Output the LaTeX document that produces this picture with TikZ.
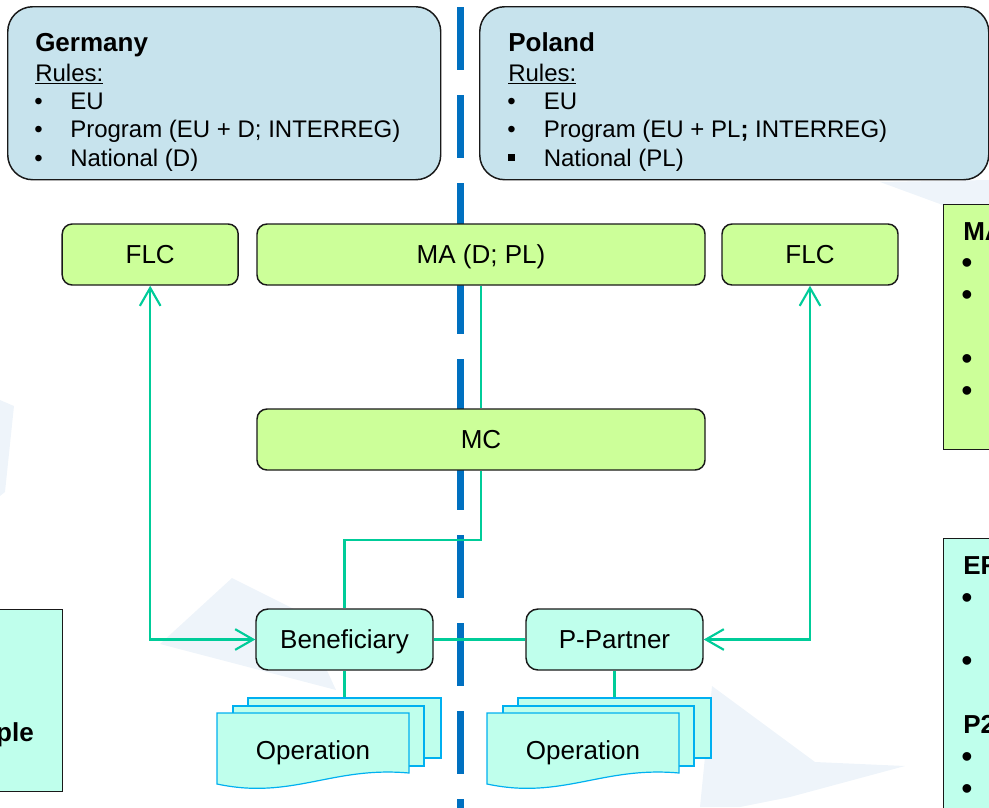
\documentclass[tikz,border=0pt]{standalone}
\usepackage{fontspec}
\setmainfont{Liberation Sans}
\usetikzlibrary{arrows.meta}
\usetikzlibrary{positioning}
\definecolor{landfill}{RGB}{199,227,237}
\definecolor{authfill}{RGB}{204,255,153}
\definecolor{actfill}{RGB}{191,255,236}
\definecolor{flowgreen}{RGB}{0,204,153}
\definecolor{borderblue}{RGB}{0,112,192}
\definecolor{docblue}{RGB}{0,176,240}
\definecolor{wmark}{RGB}{238,244,250}
\definecolor{frame}{RGB}{25,25,25}
\tikzset{
    land/.style = {draw=frame,line width=1.1pt,fill=landfill,rounded corners=18.75pt,minimum height=129.75pt,anchor=north west,inner sep=0},
    auth/.style = {draw=frame,line width=1.1pt,fill=authfill,rounded corners=7.5pt,minimum height=45.75pt,inner sep=0,text depth=0pt,font=\fontsize{19.5}{23}\selectfont},
    actor/.style = {draw=frame,line width=1.1pt,fill=actfill,rounded corners=9pt,minimum width=132.75pt,minimum height=45.75pt,inner sep=0,text depth=0pt,font=\fontsize{19.5}{23}\selectfont},
    sidebox/.style = {draw=frame,line width=1.1pt,anchor=north west,inner sep=0},
    doclayer/.style = {draw=docblue,line width=0.9pt,fill=actfill,minimum height=45pt,inner sep=0},
    docline/.style = {draw=docblue,line width=0.9pt,fill=actfill},
    optext/.style = {inner sep=0,text depth=0pt,font=\fontsize{19.5}{23}\selectfont},
    head/.style = {anchor=base west,inner sep=0,font=\bfseries\fontsize{19.5}{23}\selectfont},
    item/.style = {anchor=base west,inner sep=0,font=\fontsize{18}{21}\selectfont},
    dot/.style = {anchor=base,inner sep=0,font=\fontsize{18}{21}\selectfont},
    bigdot/.style = {anchor=base,inner sep=0,font=\fontsize{24}{28}\selectfont},
    frontier/.style = {draw=borderblue,line width=5.25pt,dash pattern=on 47.25pt off 18.75pt},
    flow/.style = {draw=flowgreen,line width=1.6pt},
    ctrl/.style = {flow,<->,>={Straight Barb[length=13.5pt,width=15.5pt]}}
}

\begin{document}
\begin{tikzpicture}[x=0.75pt,y=-0.75pt]
    \useasboundingbox (0,0) rectangle (989,807);
    \clip (0,0) rectangle (989,807);
    % Watermark
    \fill[wmark] (0,400) -- (14,406) -- (5,492) -- (0,496) -- cycle;
    \fill[wmark] (880,182) -- (989,180) -- (989,232) -- (940,204) -- cycle;
    \fill[wmark] (160,644) -- (232,578) -- (300,612) -- (336,690) -- cycle;
    \fill[wmark] (712,686) -- (815,762) -- (905,766) -- (790,797) -- (740,807) -- (700,807) -- cycle;
    % Border
    \draw[frontier] (460,-81) -- (460,830);
    % Countries
    \node[land,minimum width=324.75pt] (de) at (7,6) {};
    \node[land,minimum width=381.75pt] (pl) at (479,6) {};
    \node[head] (deName) at (35,51) {Germany};
    \node[item] (deRules) at (35,81) {\underline{Rules:}};
    \foreach \y/\txt [count=\i] in {109/EU,137.5/{Program (EU + D; INTERREG)},166/National (D)} {
        \node[dot] (deDot\i) at (38.5,\y) {\textbullet};
        \node[item] (deRule\i) at (70,\y) {\txt};
    }
    \node[head] (plName) at (508,51) {Poland};
    \node[item] (plRules) at (508,81) {\underline{Rules:}};
    \foreach \y/\mk/\txt [count=\i] in {109/\textbullet/EU,137.5/\textbullet/{Program (EU + PL\textbf{;} INTERREG)},166/{\raisebox{3.9pt}{\rule{5.25pt}{5pt}}}/National (PL)} {
        \node[dot] (plDot\i) at (511.5,\y) {\mk};
        \node[item] (plRule\i) at (543.5,\y) {\txt};
    }
    % Authorities
    \node[auth,minimum width=336pt] (ma) at (481,254.5) {MA (D; PL)};
    \node[auth,minimum width=132pt,left=13pt of ma] (flcDe) {FLC};
    \node[auth,minimum width=132pt,right=11.65pt of ma] (flcPl) {FLC};
    \node[auth,minimum width=336pt,below=91.9pt of ma] (mc) {MC};
    % Beneficiaries
    \node[actor] (benef) at (344.5,639.5) {Beneficiary};
    \node[actor,right=68.65pt of benef] (partner) {P-Partner};
    % Operations
    \foreach \nm/\x in {opl/217,opr/487} {
        \node[doclayer,minimum width=144.75pt] (\nm-back) at (\x+127.5,728) {};
        \node[doclayer,minimum width=143.25pt] (\nm-mid) at (\x+111.5,736) {};
        \draw[docline] (\x,713) -- (\x+192,713) -- (\x+192,773)
            .. controls (\x+115,766) and (\x+75,800) .. (\x,784) -- cycle;
        \node[optext] (\nm) at (\x+96,750) {Operation};
    }
    % Side notes
    \node[sidebox,fill=authfill,minimum width=75pt,minimum height=183.75pt] (maNote) at (943,204) {};
    \node[head] (maHead) at (963,240) {MA};
    \foreach \y [count=\i] in {262,294,358,390}
        \node[bigdot] (maDot\i) at (967,\y+11.4) {\textbullet};
    \node[sidebox,fill=actfill,minimum width=75pt,minimum height=300pt] (erNote) at (943,538) {};
    \node[head] (erHead) at (963,574.3) {ER};
    \node[head] (ppHead) at (963,733) {P2};
    \foreach \y [count=\i] in {597,660,756,788}
        \node[bigdot] (erDot\i) at (967,\y+11.4) {\textbullet};
    \node[sidebox,fill=actfill,minimum width=61.5pt,minimum height=136.5pt] (exNote) at (-20,609) {};
    \node[head,anchor=base east] (exHead) at (34,741) {ple};
    % Flows
    \draw[flow,line width=1.1pt] (ma) -- (mc);
    \coordinate (mcTurn) at (481,540);
    \draw[flow] (mc) -- (mcTurn) -| (benef);
    \foreach \src/\dest in {benef/partner,benef/opl-back,partner/opr-back}
        \draw[flow] (\src) -- (\dest);
    \draw[ctrl] (benef.west) -| (flcDe);
    \draw[ctrl] (partner.east) -| (flcPl);
\end{tikzpicture}
\end{document}
